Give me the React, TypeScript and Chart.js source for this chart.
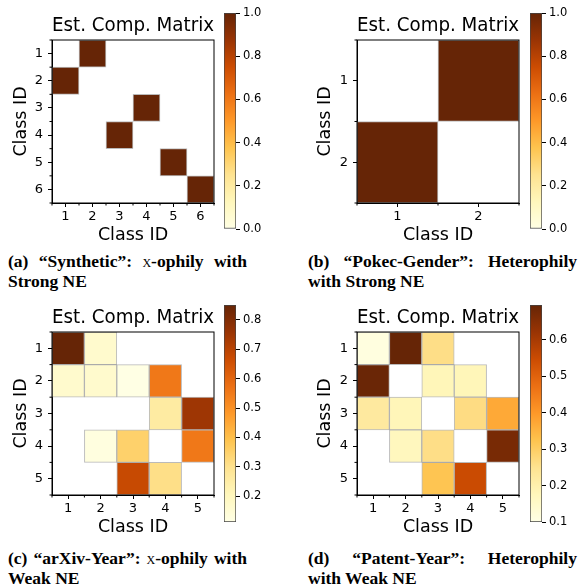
import React, { useEffect, useRef } from 'react';
import { Chart, registerables } from 'chart.js';

Chart.register(...registerables);

// ---------------- data ----------------
const classesA = [1, 2, 3, 4, 5, 6];
const matrixA = [
  [0, 1, 0, 0, 0, 0],
  [1, 0, 0, 0, 0, 0],
  [0, 0, 0, 1, 0, 0],
  [0, 0, 1, 0, 0, 0],
  [0, 0, 0, 0, 1, 0],
  [0, 0, 0, 0, 0, 1],
];
const rangeA = [0, 1];
const cbarTicksA = [0, 0.2, 0.4, 0.6, 0.8, 1.0];

const classesB = [1, 2];
const matrixB = [
  [0, 1],
  [1, 0],
];
const rangeB = [0, 1];
const cbarTicksB = [0, 0.2, 0.4, 0.6, 0.8, 1.0];

const classesC = [1, 2, 3, 4, 5];
const matrixC = [
  [0.851, 0.165, 0, 0, 0],
  [0.165, 0.165, 0.115, 0.555, 0],
  [0, 0, 0, 0.26, 0.75],
  [0, 0.125, 0.35, 0, 0.555],
  [0, 0, 0.675, 0.31, 0],
];
const rangeC = [0.112, 0.851];
const cbarTicksC = [0.2, 0.3, 0.4, 0.5, 0.6, 0.7, 0.8];

const classesD = [1, 2, 3, 4, 5];
const matrixD = [
  [0.11, 0.696, 0.26, 0, 0],
  [0.69, 0, 0.18, 0.18, 0],
  [0.225, 0.18, 0, 0.265, 0.37],
  [0, 0.17, 0.26, 0, 0.67],
  [0, 0, 0.32, 0.55, 0],
];
const rangeD = [0.1, 0.696];
const cbarTicksD = [0.1, 0.2, 0.3, 0.4, 0.5, 0.6];

const TITLE = 'Est. Comp. Matrix';
const AXIS_LABEL = 'Class ID';

// matplotlib YlOrBr
const YLORBR = ['#ffffe5', '#fff7bc', '#fee391', '#fec44f', '#fe9929', '#ec7014', '#cc4c02', '#993404', '#662506'];

function hexToRgb(h: string) {
  return [parseInt(h.slice(1, 3), 16), parseInt(h.slice(3, 5), 16), parseInt(h.slice(5, 7), 16)];
}
function cmap(t: number) {
  const tt = Math.max(0, Math.min(1, t));
  const p = tt * (YLORBR.length - 1);
  const i = Math.min(YLORBR.length - 2, Math.floor(p));
  const f = p - i;
  const a = hexToRgb(YLORBR[i]);
  const b = hexToRgb(YLORBR[i + 1]);
  const c = a.map((v, k) => Math.round(v + (b[k] - v) * f));
  return `rgb(${c[0]},${c[1]},${c[2]})`;
}

const FONT = 'DejaVu Sans';

type Geom = {
  panelX: number;
  plotL: number; plotR: number; plotT: number; plotB: number;
  yTitleX: number;
  cbL: number; cbR: number; cbT: number; cbB: number;
};

const frameAndMinor = {
  id: 'frameAndMinor',
  afterDraw(chart: any) {
    const { ctx, chartArea: a, scales } = chart;
    ctx.save();
    ctx.strokeStyle = '#000';
    ctx.lineWidth = 1;
    ctx.strokeRect(a.left, a.top, a.right - a.left, a.bottom - a.top);
    const xs = scales.x, ys = scales.y;
    ctx.beginPath();
    for (let v = xs.min; v <= xs.max + 1e-9; v += 1) {
      const px = xs.getPixelForValue(v);
      ctx.moveTo(px, a.bottom);
      ctx.lineTo(px, a.bottom + 2.5);
    }
    for (let v = ys.min; v <= ys.max + 1e-9; v += 1) {
      const py = ys.getPixelForValue(v);
      ctx.moveTo(a.left, py);
      ctx.lineTo(a.left - 2.5, py);
    }
    ctx.stroke();
    ctx.restore();
  },
};

function Heatmap({ classes, matrix, range, g }: { classes: number[]; matrix: number[][]; range: number[]; g: Geom }) {
  const ref = useRef<HTMLCanvasElement>(null);
  const left = g.panelX;
  const top = g.plotT - 40;
  const width = g.plotR - g.panelX + 12;
  const height = g.plotB - g.plotT + 87;
  useEffect(() => {
    const n = classes.length;
    const cells: any[] = [];
    matrix.forEach((row, r) =>
      row.forEach((v, c) => {
        if (v > 0) cells.push({ x: classes[c], y: [classes[r] - 0.5, classes[r] + 0.5], v });
      })
    );
    const norm = (v: number) => (v - range[0]) / (range[1] - range[0]);
    const tickFont = { family: FONT, size: 13 };
    const titleFont = { family: FONT, size: 17.5 };
    const chart = new Chart(ref.current as HTMLCanvasElement, {
      type: 'bar',
      data: {
        datasets: [
          {
            data: cells,
            backgroundColor: (ctx: any) => (ctx.raw ? cmap(norm(ctx.raw.v)) : 'transparent'),
            borderColor: 'rgba(140,140,140,0.6)',
            borderWidth: 1,
            borderSkipped: false,
            barPercentage: 1,
            categoryPercentage: 1,
          } as any,
        ],
      },
      options: {
        animation: false,
        responsive: false,
        devicePixelRatio: 1,
        layout: { padding: { left: 0, right: 12, top: 0, bottom: 0 } },
        plugins: {
          legend: { display: false },
          tooltip: { enabled: false },
          title: {
            display: true,
            text: TITLE,
            fullSize: false,
            color: '#000',
            font: { family: FONT, size: 19.5, weight: 'normal' },
            padding: { top: 14.3, bottom: 2.3 },
          },
        },
        scales: {
          x: {
            type: 'linear',
            position: 'bottom',
            min: 0.5,
            max: n + 0.5,
            offset: false,
            afterBuildTicks: (s: any) => {
              s.ticks = classes.map((v) => ({ value: v }));
            },
            afterFit: (s: any) => {
              s.height = 47;
            },
            ticks: { font: tickFont, color: '#000', padding: 2, maxRotation: 0, autoSkip: false, callback: (v: any) => String(v) },
            grid: { drawOnChartArea: false, drawTicks: true, tickLength: 4, color: '#000', offset: false },
            border: { display: true, color: '#000' },
            title: { display: true, text: AXIS_LABEL, color: '#000', font: titleFont, padding: { top: 0, bottom: 4.5 } },
          },
          y: {
            type: 'linear',
            reverse: true,
            min: 0.5,
            max: n + 0.5,
            afterBuildTicks: (s: any) => {
              s.ticks = classes.map((v) => ({ value: v }));
            },
            afterFit: (s: any) => {
              s.width = g.plotL - g.panelX;
            },
            ticks: { font: tickFont, color: '#000', padding: 5, autoSkip: false, callback: (v: any) => String(v) },
            grid: { drawOnChartArea: false, drawTicks: true, tickLength: 4, color: '#000' },
            border: { display: true, color: '#000' },
            title: { display: true, text: AXIS_LABEL, color: '#000', font: titleFont, padding: { top: g.yTitleX - g.panelX - 10.5, bottom: 0 } },
          },
        },
      } as any,
      plugins: [frameAndMinor],
    });
    return () => chart.destroy();
  }, []);
  return <canvas ref={ref} width={width} height={height} style={{ position: 'absolute', left, top, width, height }} />;
}

function Colorbar({ range, ticks, g }: { range: number[]; ticks: number[]; g: Geom }) {
  const ref = useRef<HTMLCanvasElement>(null);
  const left = g.cbL;
  const top = g.cbT - 10;
  const width = g.cbR - g.cbL + 40;
  const height = g.cbB - g.cbT + 20;
  useEffect(() => {
    const chart = new Chart(ref.current as HTMLCanvasElement, {
      type: 'bar',
      data: {
        labels: [''],
        datasets: [
          {
            data: [[range[0], range[1]]],
            backgroundColor: (ctx: any) => {
              const a = ctx.chart.chartArea;
              if (!a) return 'transparent';
              const gr = ctx.chart.ctx.createLinearGradient(0, a.bottom, 0, a.top);
              YLORBR.forEach((c, i) => gr.addColorStop(i / (YLORBR.length - 1), c));
              return gr;
            },
            borderColor: '#444',
            borderWidth: 1,
            borderSkipped: false,
            barPercentage: 1,
            categoryPercentage: 1,
          } as any,
        ],
      },
      options: {
        animation: false,
        responsive: false,
        devicePixelRatio: 1,
        layout: { padding: { left: 0, right: 0, top: 10, bottom: 10 } },
        plugins: { legend: { display: false }, tooltip: { enabled: false }, title: { display: false } },
        scales: {
          x: { display: false },
          y: {
            position: 'right',
            min: range[0],
            max: range[1],
            afterBuildTicks: (s: any) => {
              s.ticks = ticks.map((v) => ({ value: v }));
            },
            afterFit: (s: any) => {
              s.width = 40;
            },
            ticks: { font: { family: FONT, size: 11.5 }, color: '#000', padding: 3, autoSkip: false, callback: (v: any) => Number(v).toFixed(1) },
            grid: { drawOnChartArea: false, drawTicks: true, tickLength: 4, color: '#000' },
            border: { display: false },
          },
        },
      } as any,
    });
    return () => chart.destroy();
  }, []);
  return <canvas ref={ref} width={width} height={height} style={{ position: 'absolute', left, top, width, height }} />;
}

const geomA: Geom = { panelX: 0, plotL: 52, plotR: 214, plotT: 40, plotB: 203, yTitleX: 21, cbL: 224, cbR: 236, cbT: 13, cbB: 229 };
const geomB: Geom = { panelX: 290, plotL: 357, plotR: 519, plotT: 40, plotB: 203, yTitleX: 325, cbL: 530, cbR: 542, cbT: 13, cbB: 229 };
const geomC: Geom = { panelX: 0, plotL: 52, plotR: 214, plotT: 332, plotB: 495, yTitleX: 21, cbL: 224, cbR: 236, cbT: 305, cbB: 522 };
const geomD: Geom = { panelX: 290, plotL: 357, plotR: 519, plotT: 332, plotB: 495, yTitleX: 325, cbL: 530, cbR: 542, cbT: 305, cbB: 522 };

const capStyle: React.CSSProperties = {
  position: 'absolute',
  fontFamily: '"Liberation Serif", "Times New Roman", serif',
  fontWeight: 'bold',
  fontSize: 17.5,
  lineHeight: '19.5px',
  color: '#000',
  whiteSpace: 'nowrap',
};
const line1Style: React.CSSProperties = { textAlign: 'justify', textAlignLast: 'justify' as any, whiteSpace: 'nowrap' };
const X = () => <span style={{ fontVariant: 'small-caps', fontWeight: 'normal' }}>x</span>;

function Caption({ left, top, width, first, second }: { left: number; top: number; width: number; first: React.ReactNode; second: React.ReactNode }) {
  return (
    <div style={{ ...capStyle, left, top, width }}>
      <div style={line1Style}>{first}</div>
      <div>{second}</div>
    </div>
  );
}

export default function App() {
  return (
    <div style={{ position: 'absolute', left: 0, top: 0, width: 578, height: 586, background: '#fff', overflow: 'hidden' }}>
      <Heatmap classes={classesA} matrix={matrixA} range={rangeA} g={geomA} />
      <Colorbar range={rangeA} ticks={cbarTicksA} g={geomA} />
      <Heatmap classes={classesB} matrix={matrixB} range={rangeB} g={geomB} />
      <Colorbar range={rangeB} ticks={cbarTicksB} g={geomB} />
      <Heatmap classes={classesC} matrix={matrixC} range={rangeC} g={geomC} />
      <Colorbar range={rangeC} ticks={cbarTicksC} g={geomC} />
      <Heatmap classes={classesD} matrix={matrixD} range={rangeD} g={geomD} />
      <Colorbar range={rangeD} ticks={cbarTicksD} g={geomD} />

      <Caption left={8} top={252} width={239} first={<>(a) “Synthetic”: <X />-ophily with</>} second="Strong NE" />
      <Caption left={308} top={252} width={269} first="(b) “Pokec-Gender”: Heterophily" second="with Strong NE" />
      <Caption left={8} top={549} width={239} first={<>(c) “arXiv-Year”: <X />-ophily with</>} second="Weak NE" />
      <Caption left={308} top={549} width={269} first="(d) “Patent-Year”: Heterophily" second="with Weak NE" />
    </div>
  );
}
